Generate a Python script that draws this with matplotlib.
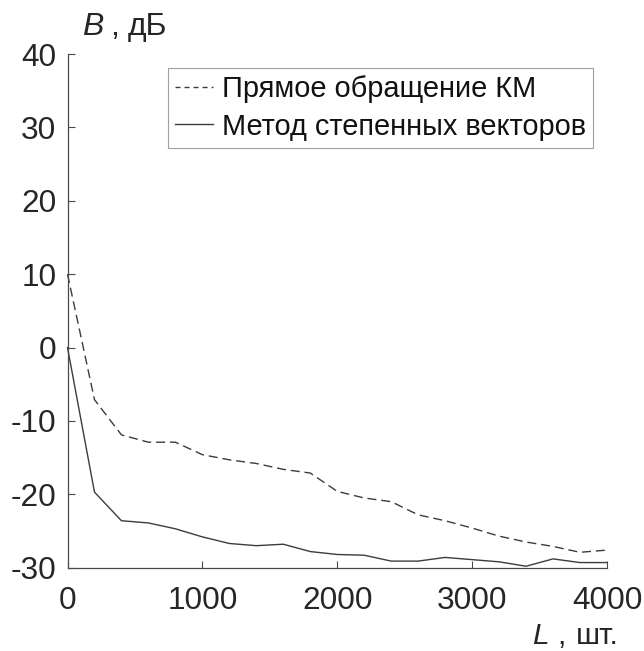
import matplotlib
matplotlib.use("Agg")
import matplotlib.pyplot as plt
from matplotlib.lines import Line2D

L_values = [0, 200, 400, 600, 800, 1000, 1200, 1400, 1600, 1800, 2000,
            2200, 2400, 2600, 2800, 3000, 3200, 3400, 3600, 3800, 4000]
direct_inversion = [10.0, -7.1, -11.9, -12.9, -12.9, -14.6, -15.3, -15.8, -16.6, -17.1, -19.6,
                    -20.5, -21.0, -22.8, -23.6, -24.6, -25.7, -26.5, -27.1, -27.9, -27.6]
power_vectors = [0.0, -19.7, -23.6, -23.9, -24.7, -25.8, -26.7, -27.0, -26.8, -27.8, -28.2,
                 -28.3, -29.1, -29.1, -28.6, -28.9, -29.2, -29.8, -28.8, -29.3, -29.3]
x_ticks = [0, 1000, 2000, 3000, 4000]
y_ticks = [-30, -20, -10, 0, 10, 20, 30, 40]
legend_labels = ["Прямое обращение КМ", "Метод степенных векторов"]

plt.rcParams['font.family'] = ['Liberation Sans', 'DejaVu Sans']

fig = plt.figure(figsize=(6.44, 6.51), dpi=100)
ax = fig.add_axes([67.5/644, 83.3/651, (607-67.5)/644, (567.7-54)/651])

line_color = '#3c3c3c'
ax.plot(L_values, direct_inversion, color=line_color, lw=1.0, ls=(0, (6.5, 3.5)),
        clip_on=False)
ax.plot(L_values, power_vectors, color=line_color, lw=1.0, ls='-',
        clip_on=False)

ax.set_xlim(0, 4000)
ax.set_ylim(-30, 40)
ax.set_xticks(x_ticks)
ax.set_yticks(y_ticks)
ax.set_xticklabels([str(v) for v in x_ticks])
ax.set_yticklabels([str(v) for v in y_ticks])

for s in ['top', 'right']:
    ax.spines[s].set_visible(False)
for s in ['left', 'bottom']:
    ax.spines[s].set_color('#4a4a4a')
    ax.spines[s].set_linewidth(0.9)

ax.tick_params(direction='in', length=5, width=0.8, color='#4a4a4a',
               labelsize=22.7, labelcolor='#262626')
ax.tick_params(axis='y', pad=8)
ax.tick_params(axis='x', pad=13)

tc = '#262626'
fig.text(81.7/644, 1 - 35/651, 'B', fontsize=23, color=tc, style='italic',
         ha='left', va='baseline')
fig.text(110/644, 1 - 35/651, ',', fontsize=23, color=tc, ha='left', va='baseline')
fig.text(128/644, 1 - 35/651, 'дБ', fontsize=23, color=tc, ha='left', va='baseline')
lab_y = 1 - 643.5/651
fig.text(532/644, lab_y, 'L', fontsize=21.5, color=tc, style='italic',
         ha='left', va='baseline')
fig.text(557/644, lab_y, ',', fontsize=21.5, color=tc, ha='left', va='baseline')
fig.text(576/644, lab_y, 'шт.', fontsize=21.5, color=tc, ha='left', va='baseline')

handles = [Line2D([], [], color=line_color, lw=1.0, ls=(0, (3.6, 2.9))),
           Line2D([], [], color=line_color, lw=1.0, ls='-')]
leg = ax.legend(handles, legend_labels, loc='upper right',
                bbox_to_anchor=((593-67.5)/(607-67.5), (567.7-68)/(567.7-54)),
                fontsize=20.9, frameon=True, fancybox=False, borderpad=0.25,
                handlelength=1.3, handletextpad=0.3, labelspacing=0.32, borderaxespad=0)
leg.get_frame().set_edgecolor('#888888')
leg.get_frame().set_linewidth(0.8)
for t in leg.get_texts():
    t.set_color('#111111')

fig.savefig('out.png', dpi=100)
